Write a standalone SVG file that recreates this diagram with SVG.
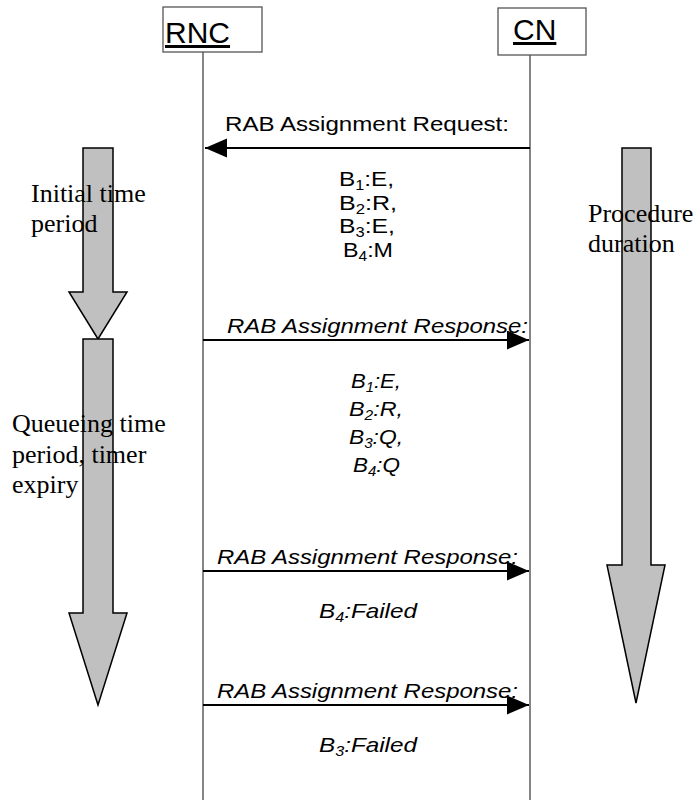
<svg xmlns="http://www.w3.org/2000/svg" width="698" height="800" viewBox="0 0 698 800">
  <style>
    .box { fill: #ffffff; stroke: #555555; stroke-width: 1.3; }
    .life { stroke: #444444; stroke-width: 1.3; fill: none; }
    .msg { stroke: #000000; stroke-width: 2; fill: none; }
    .big { fill: #c0c0c0; stroke: #000000; stroke-width: 1.5; stroke-linejoin: miter; }
    .hdr { font-family: "Liberation Sans", Arial, sans-serif; font-size: 30px; fill: #000; text-decoration: underline; }
    .lbl { font-family: "Liberation Sans", Arial, sans-serif; font-size: 21px; fill: #000; }
    .it { font-style: italic; }
    .ser { font-family: "Liberation Serif", "Times New Roman", serif; font-size: 26px; fill: #000; }
    .sub { font-size: 14px; }
  </style>
  <defs>
    <marker id="ah" markerUnits="userSpaceOnUse" markerWidth="23" markerHeight="20" refX="22" refY="9.5" orient="auto">
      <path d="M0,0 L22,9.5 L0,19 Z" fill="#000"/>
    </marker>
  </defs>

  <g id="lifelines">
    <line class="life" x1="203" y1="52" x2="203" y2="800"/>
    <line class="life" x1="530" y1="55" x2="530" y2="800"/>
  </g>

  <g id="node-rnc">
    <rect class="box" x="163" y="7" width="99" height="45"/>
    <text class="hdr" x="165" y="43">RNC</text>
  </g>
  <g id="node-cn">
    <rect class="box" x="498" y="8" width="88" height="47"/>
    <text class="hdr" x="513" y="40">CN</text>
  </g>

  <g id="period-initial">
    <polygon class="big" points="83,148 113,148 113,292 127,292 98,339 69,292 83,292"/>
    <text class="ser" x="31" y="202">Initial time</text>
    <text class="ser" x="31" y="232">period</text>
  </g>
  <g id="period-queueing">
    <polygon class="big" points="83,339 113,339 113,613 127,613 98,705 69,613 83,613"/>
    <text class="ser" x="12" y="432">Queueing time</text>
    <text class="ser" x="12" y="463">period, timer</text>
    <text class="ser" x="12" y="493">expiry</text>
  </g>
  <g id="period-procedure">
    <polygon class="big" points="622,148 651,148 651,565 665,565 636,703 607,565 622,565"/>
    <text class="ser" x="588" y="222">Procedure</text>
    <text class="ser" x="588" y="252">duration</text>
  </g>

  <g id="connectors">
    <line class="msg" x1="530" y1="148" x2="205" y2="148" marker-end="url(#ah)"/>
    <line class="msg" x1="203" y1="340" x2="529" y2="340" marker-end="url(#ah)"/>
    <line class="msg" x1="203" y1="571" x2="529" y2="571" marker-end="url(#ah)"/>
    <line class="msg" x1="203" y1="705" x2="529" y2="705" marker-end="url(#ah)"/>
  </g>

  <g id="labels">
    <text class="lbl" x="225" y="131" textLength="284" lengthAdjust="spacingAndGlyphs">RAB Assignment Request:</text>
    <text class="lbl" x="339" y="186" textLength="55" lengthAdjust="spacingAndGlyphs">B<tspan class="sub" dy="4">1</tspan><tspan dy="-4">:E,</tspan></text>
    <text class="lbl" x="339" y="210" textLength="58" lengthAdjust="spacingAndGlyphs">B<tspan class="sub" dy="4">2</tspan><tspan dy="-4">:R,</tspan></text>
    <text class="lbl" x="339" y="233" textLength="56" lengthAdjust="spacingAndGlyphs">B<tspan class="sub" dy="4">3</tspan><tspan dy="-4">:E,</tspan></text>
    <text class="lbl" x="343" y="257" textLength="50" lengthAdjust="spacingAndGlyphs">B<tspan class="sub" dy="4">4</tspan><tspan dy="-4">:M</tspan></text>

    <text class="lbl it" x="227" y="333" textLength="301" lengthAdjust="spacingAndGlyphs">RAB Assignment Response:</text>
    <text class="lbl it" x="351" y="388" textLength="50" lengthAdjust="spacingAndGlyphs">B<tspan class="sub" dy="4">1</tspan><tspan dy="-4">:E,</tspan></text>
    <text class="lbl it" x="349" y="416" textLength="54" lengthAdjust="spacingAndGlyphs">B<tspan class="sub" dy="4">2</tspan><tspan dy="-4">:R,</tspan></text>
    <text class="lbl it" x="349" y="444" textLength="54" lengthAdjust="spacingAndGlyphs">B<tspan class="sub" dy="4">3</tspan><tspan dy="-4">:Q,</tspan></text>
    <text class="lbl it" x="353" y="472" textLength="47" lengthAdjust="spacingAndGlyphs">B<tspan class="sub" dy="4">4</tspan><tspan dy="-4">:Q</tspan></text>

    <text class="lbl it" x="217" y="564" textLength="301" lengthAdjust="spacingAndGlyphs">RAB Assignment Response:</text>
    <text class="lbl it" x="319" y="618" textLength="98" lengthAdjust="spacingAndGlyphs">B<tspan class="sub" dy="4">4</tspan><tspan dy="-4">:Failed</tspan></text>

    <text class="lbl it" x="217" y="698" textLength="301" lengthAdjust="spacingAndGlyphs">RAB Assignment Response:</text>
    <text class="lbl it" x="319" y="752" textLength="98" lengthAdjust="spacingAndGlyphs">B<tspan class="sub" dy="4">3</tspan><tspan dy="-4">:Failed</tspan></text>
  </g>
</svg>
